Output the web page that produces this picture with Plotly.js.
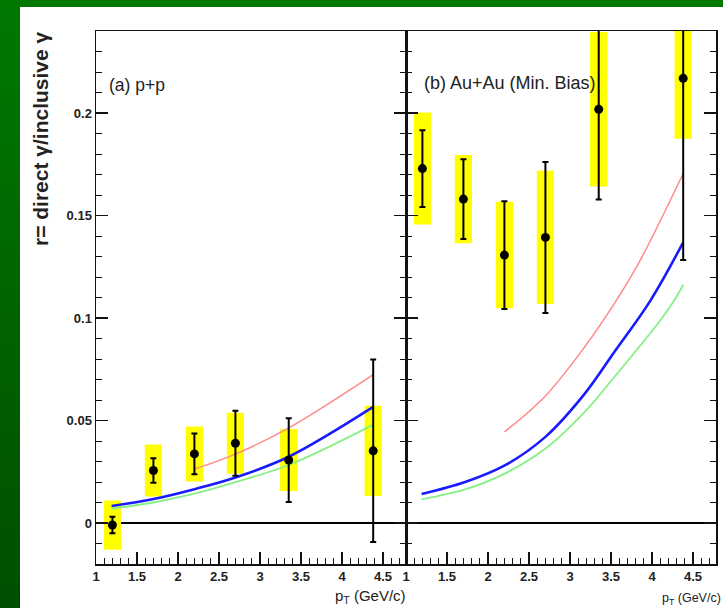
<!DOCTYPE html>
<html>
<head>
<meta charset="utf-8">
<script src="https://cdn.plot.ly/plotly-3.0.1.min.js"></script>
<style>
html,body{margin:0;padding:0;}
#wrap{width:723px;height:608px;background:linear-gradient(to bottom,#007800 0%,#006400 50%,#004e00 100%);}
#chart{width:723px;height:608px;}
</style>
</head>
<body>
<div id="wrap"><div id="chart"></div></div>
<script>
// ---- data ----
const ptX = [1.2, 1.7, 2.2, 2.7, 3.35, 4.38];
const ppY = [-0.001, 0.0256, 0.0337, 0.0389, 0.0307, 0.0352];
const ppStat = [0.004, 0.006, 0.0099, 0.0158, 0.0204, 0.0445];
const ppSys = [0.012, 0.0127, 0.0134, 0.0149, 0.0151, 0.022];
const auY = [0.1729, 0.158, 0.1307, 0.1393, 0.2018, 0.2169];
const auStat = [0.0187, 0.0195, 0.0263, 0.0368, 0.044, 0.0886];
const auSys = [0.0273, 0.0215, 0.026, 0.0325, 0.0377, 0.0294];

const redA_x = [2.2, 2.7, 3.35, 4.38];
const redA_y = [0.0263, 0.0336, 0.0464, 0.0724];
const blueA_x = [1.19, 1.7, 2.2, 2.7, 3.35, 4.38];
const blueA_y = [0.0083, 0.0117, 0.0165, 0.0222, 0.0323, 0.0566];
const greenA_x = [1.19, 1.7, 2.2, 2.7, 3.35, 4.38];
const greenA_y = [0.0070, 0.0100, 0.0143, 0.0200, 0.0283, 0.0480];

const redB_x = [2.2, 2.7, 3.18, 3.54, 3.84, 4.38];
const redB_y = [0.0444, 0.0620, 0.0860, 0.1070, 0.1270, 0.1705];
const blueB_x = [1.19, 1.73, 2.21, 2.70, 3.18, 3.54, 3.98, 4.38];
const blueB_y = [0.0141, 0.0201, 0.0282, 0.0420, 0.0631, 0.0834, 0.1085, 0.1369];
const greenB_x = [1.19, 1.73, 2.21, 2.70, 3.18, 3.54, 4.10, 4.27, 4.38];
const greenB_y = [0.0115, 0.0165, 0.0242, 0.0363, 0.0542, 0.0712, 0.0988, 0.1085, 0.1162];

const xTickVals = [1, 1.5, 2, 2.5, 3, 3.5, 4, 4.5];
const xTickText = ['1', '1.5', '2', '2.5', '3', '3.5', '4', '4.5'];
const yTickVals = [0, 0.05, 0.1, 0.15, 0.2];
const yTickText = ['0', '0.05', '0.1', '0.15', '0.2'];

// minor tick positions (axis decoration)
const xMinor = [];
for (let i = 10; i <= 47; i++) xMinor.push(i / 10);
const yMinor = [];
for (let i = -2; i <= 24; i++) yMinor.push(i / 100);

// ---- traces ----
function sysBars(y, sys, xa, ya) {
  return {type:'bar', x: ptX, y: sys.map(s => 2*s), base: y.map((v,i) => v - sys[i]),
    width: 0.21, marker:{color:'#ffff00', line:{width:0}}, xaxis: xa, yaxis: ya,
    showlegend:false, hoverinfo:'skip'};
}
function curve(x, y, color, w, xa, ya) {
  return {type:'scatter', mode:'lines', x:x, y:y, line:{color:color, width:w, shape:'spline', smoothing:1},
    xaxis:xa, yaxis:ya, showlegend:false};
}
function pts(y, stat, xa, ya) {
  return {type:'scatter', mode:'markers', x: ptX, y: y,
    error_y:{type:'data', array: stat, visible:true, color:'#000', thickness:2, width:3},
    marker:{color:'#000', size:9}, xaxis:xa, yaxis:ya, showlegend:false};
}

const data = [
  sysBars(ppY, ppSys, 'x', 'y'),
  sysBars(auY, auSys, 'x2', 'y2'),
  curve(redA_x, redA_y, '#ff8a8a', 1.5, 'x', 'y'),
  curve(greenA_x, greenA_y, '#86f086', 1.8, 'x', 'y'),
  curve(blueA_x, blueA_y, '#1a1aff', 2.6, 'x', 'y'),
  curve(redB_x, redB_y, '#ff8a8a', 1.5, 'x2', 'y2'),
  curve(greenB_x, greenB_y, '#86f086', 1.8, 'x2', 'y2'),
  curve(blueB_x, blueB_y, '#1a1aff', 2.6, 'x2', 'y2'),
  pts(ppY, ppStat, 'x', 'y'),
  pts(auY, auStat, 'x2', 'y2')
];

const tickFont = {family:'"Liberation Sans Narrow", "Arial Narrow", "Liberation Sans", Arial, sans-serif', size:13, color:'#222', weight:'bold'};
const W = 723, H = 608;
const yDom = [44/H, 577/H];

function xAxis(dom, anchor) {
  return {domain: dom, anchor: anchor, range:[1, 4.78], tickmode:'array', tickvals:xTickVals, ticktext:xTickText,
    ticks:'inside', ticklen:12, tickwidth:1.5, tickcolor:'#111',
    minor:{ticks:'inside', ticklen:6, tickwidth:1, tickcolor:'#111', tickmode:'array', tickvals:xMinor},
    showline:true, mirror:true, linecolor:'#111', linewidth:1.5, showgrid:false, zeroline:false,
    tickfont: tickFont, fixedrange:true};
}
function yAxis(anchor, labels) {
  return {domain: yDom, anchor: anchor, range:[-0.02, 0.24], tickmode:'array', tickvals:yTickVals, ticktext:yTickText,
    showticklabels: labels, ticks:'inside', ticklen:12, tickwidth:1.5, tickcolor:'#111',
    minor:{ticks:'inside', ticklen:6, tickwidth:1, tickcolor:'#111', tickmode:'array', tickvals:yMinor},
    showline:true, mirror:'ticks', linecolor:'#111', linewidth:1.5, showgrid:false,
    zeroline:true, zerolinecolor:'#000', zerolinewidth:1.6, tickfont: tickFont, fixedrange:true};
}

const layout = {
  width: W, height: H, margin:{l:0, r:0, t:0, b:0, pad:0},
  paper_bgcolor:'rgba(0,0,0,0)', plot_bgcolor:'#fff', barmode:'overlay',
  xaxis: xAxis([96/W, 406/W], 'y'),
  xaxis2: xAxis([406/W, 716/W], 'y2'),
  yaxis: yAxis('x', true),
  yaxis2: yAxis('x2', false),
  shapes: [{type:'rect', xref:'paper', yref:'paper', x0:20/W, x1:1, y0:0, y1:(H-7)/H,
    fillcolor:'#ffffff', line:{width:0}, layer:'below'}],
  annotations: [
    {xref:'paper', yref:'paper', x:40/W, y:1-139/H, xanchor:'center', yanchor:'middle',
      text:'r= direct γ/inclusive γ', textangle:-90,
      showarrow:false, font:{family:'"Liberation Sans", Arial, sans-serif', size:21, color:'#222', weight:'bold'}},
    {xref:'paper', yref:'paper', x:107/W, y:1-85/H, xanchor:'left', yanchor:'middle', text:'(a) p+p', showarrow:false,
      font:{family:'"Liberation Sans", Arial, sans-serif', size:17.5, color:'#222'}},
    {xref:'paper', yref:'paper', x:422/W, y:1-83/H, xanchor:'left', yanchor:'middle', text:'(b) Au+Au (Min. Bias)', showarrow:false,
      font:{family:'"Liberation Sans", Arial, sans-serif', size:18, color:'#222'}},
    {xref:'paper', yref:'paper', x:408/W, y:1-585/H, xanchor:'right', yanchor:'top', text:'p<sub>T</sub> (GeV/c)', showarrow:false,
      font:{family:'"Liberation Sans Narrow", "Liberation Sans", Arial, sans-serif', size:15, color:'#222'}},
    {xref:'paper', yref:'paper', x:723/W, y:1-589/H, xanchor:'right', yanchor:'top', text:'p<sub>T</sub> (GeV/c)', showarrow:false,
      font:{family:'"Liberation Sans Narrow", "Liberation Sans", Arial, sans-serif', size:12.5, color:'#222'}}
  ]
};

Plotly.newPlot('chart', data, layout, {displayModeBar:false, staticPlot:true});
</script>
</body>
</html>
